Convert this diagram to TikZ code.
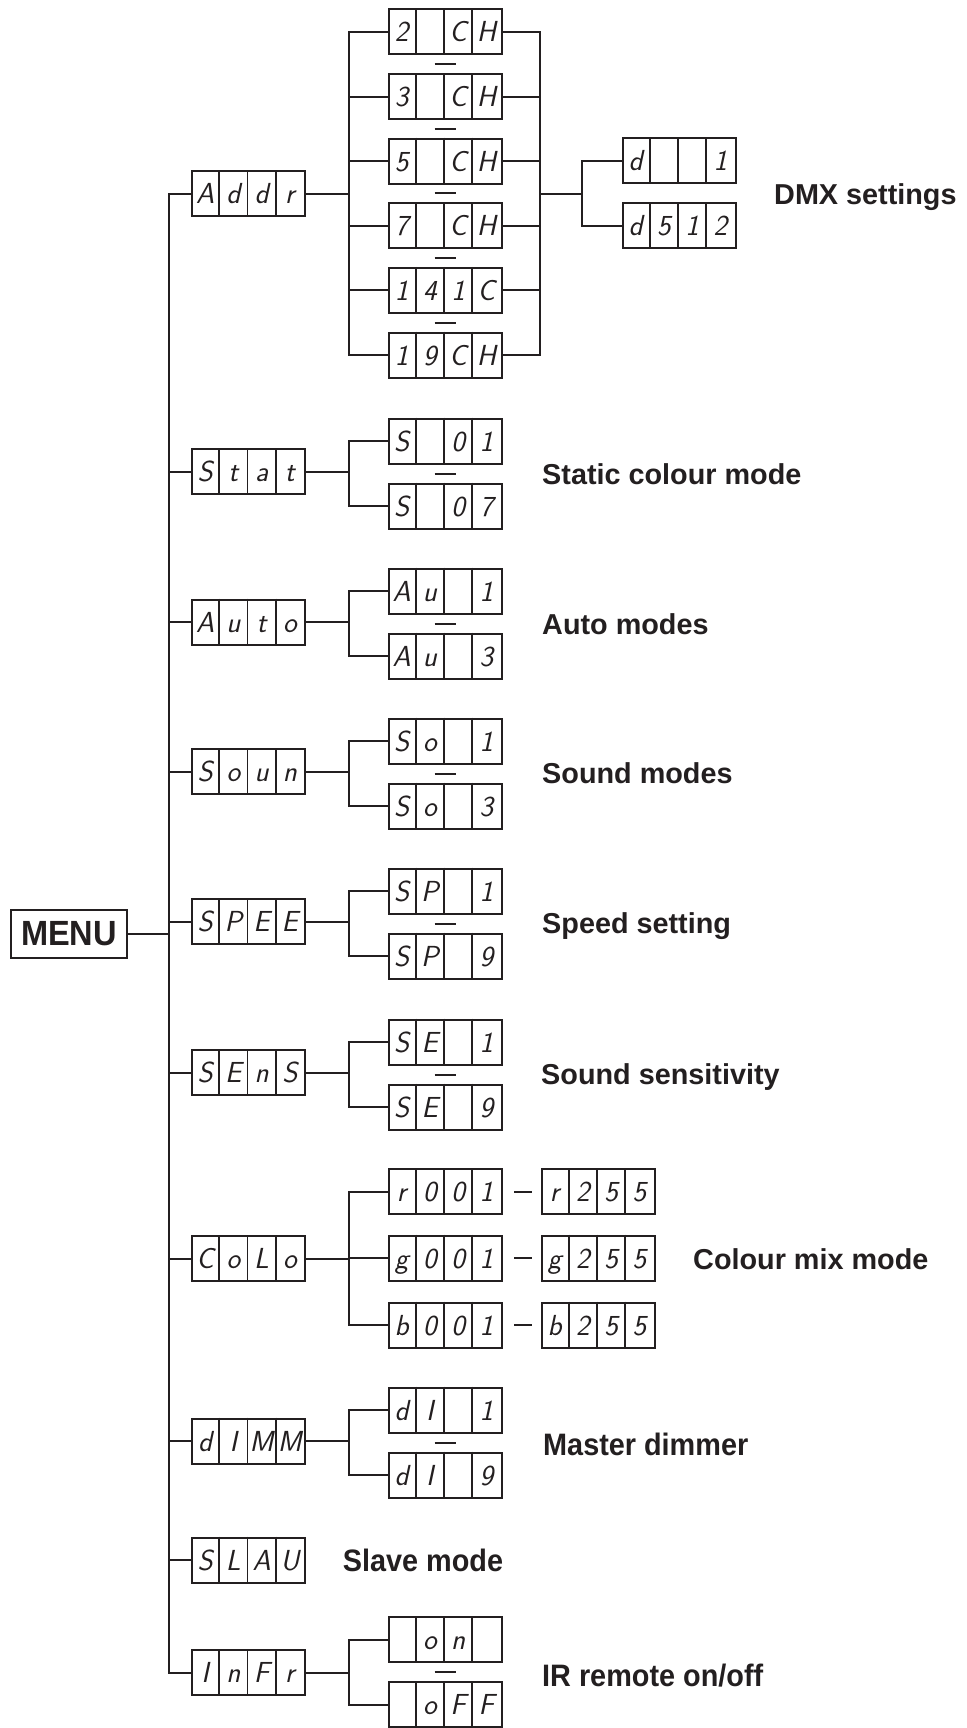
\documentclass[tikz,border=0pt]{standalone}
\usepackage{fontspec}
\newfontfamily\notefont{Liberation Sans}
\newfontfamily\narrowfont[FakeStretch=0.93]{Liberation Sans}
\usetikzlibrary{calc}
\definecolor{lcdInk}{HTML}{231F20}
\tikzset{
  lcd box/.style={draw=lcdInk, line width=2pt, minimum width=113pt, minimum height=45pt, inner sep=0pt},
  lcd cell/.style={draw=lcdInk, line width=1.6pt},
  lcd char/.style={text=lcdInk, inner sep=0pt, text height=20pt, text depth=0pt, font={\fontsize{29pt}{29pt}\sffamily\slshape}},
  lcd wire/.style={draw=lcdInk, line width=2pt},
  lcd or/.style={draw=lcdInk, line width=2pt},
  menu box/.style={draw=lcdInk, line width=2pt, minimum width=116pt, minimum height=48.5pt, inner sep=0pt, text=lcdInk, font={\fontsize{35pt}{36pt}\narrowfont\bfseries}},
  note wide/.style={anchor=base west, inner sep=0pt, text=lcdInk, font={\fontsize{28.8pt}{32pt}\notefont\bfseries}},
  note narrow/.style={anchor=base west, inner sep=0pt, text=lcdInk, font={\fontsize{31pt}{34pt}\narrowfont\bfseries}},
}
% one four-digit display: name, position, the four cells
\newcommand{\lcdbox}[6]{%
  \node[lcd box] (#1) at (#2) {};
  \foreach \k in {1,2,3}
    \draw[lcd cell] ([xshift=\k*28.25pt]#1.north west) -- ([xshift=\k*28.25pt]#1.south west);
  \foreach \k/\c in {1/#3,2/#4,3/#5,4/#6}
    \node[lcd char] (#1-\k) at ([xshift=\k*28.25pt-14.125pt]#1.west) {\c};
}

\begin{document}
\begin{tikzpicture}[x=1pt,y=-1pt]
  \useasboundingbox (0,0) rectangle (966,1728);
  \node[menu box] (menu) at (69,934) {MENU};
  % main menu column
  \lcdbox{addr}{248.5,194}{A}{d}{d}{r}
  \lcdbox{stat}{248.5,471.5}{S}{t}{a}{t}
  \lcdbox{auto}{248.5,622}{A}{u}{t}{o}
  \lcdbox{soun}{248.5,771.5}{S}{o}{u}{n}
  \lcdbox{spee}{248.5,921.5}{S}{P}{E}{E}
  \lcdbox{sens}{248.5,1072.5}{S}{E}{n}{S}
  \lcdbox{colo}{248.5,1258.5}{C}{o}{L}{o}
  \lcdbox{dimm}{248.5,1441}{d}{I}{M}{M}
  \lcdbox{slav}{248.5,1560}{S}{L}{A}{U}
  \lcdbox{infr}{248.5,1672.5}{I}{n}{F}{r}
  % sub settings
  \lcdbox{ch2}{445,32}{2}{}{C}{H}
  \lcdbox{ch3}{445,96.6}{3}{}{C}{H}
  \lcdbox{ch5}{445,161.2}{5}{}{C}{H}
  \lcdbox{ch7}{445,225.8}{7}{}{C}{H}
  \lcdbox{ch141}{445,290.4}{1}{4}{1}{C}
  \lcdbox{ch19}{445,355}{1}{9}{C}{H}
  \lcdbox{dmx1}{679,161}{d}{}{}{1}
  \lcdbox{dmx512}{679,226}{d}{5}{1}{2}
  \lcdbox{s01}{445,441}{S}{}{0}{1}
  \lcdbox{s07}{445,506}{S}{}{0}{7}
  \lcdbox{au1}{445,591}{A}{u}{}{1}
  \lcdbox{au3}{445,656}{A}{u}{}{3}
  \lcdbox{so1}{445,741}{S}{o}{}{1}
  \lcdbox{so3}{445,806}{S}{o}{}{3}
  \lcdbox{sp1}{445,891}{S}{P}{}{1}
  \lcdbox{sp9}{445,956}{S}{P}{}{9}
  \lcdbox{se1}{445,1042}{S}{E}{}{1}
  \lcdbox{se9}{445,1107}{S}{E}{}{9}
  \lcdbox{r001}{445,1191.5}{r}{0}{0}{1}
  \lcdbox{g001}{445,1258}{g}{0}{0}{1}
  \lcdbox{b001}{445,1325}{b}{0}{0}{1}
  \lcdbox{r255}{598,1191.5}{r}{2}{5}{5}
  \lcdbox{g255}{598,1258}{g}{2}{5}{5}
  \lcdbox{b255}{598,1325}{b}{2}{5}{5}
  \lcdbox{di1}{445,1410}{d}{I}{}{1}
  \lcdbox{di9}{445,1475}{d}{I}{}{9}
  \lcdbox{iron}{445,1639.5}{}{o}{n}{}
  \lcdbox{iroff}{445,1704.5}{}{o}{F}{F}
  % trunk
  \draw[lcd wire] (addr.west) -- ++(-22.5,0) coordinate (trunk) |- (infr.west);
  \foreach \n in {stat,auto,soun,spee,sens,colo,dimm,slav}
    \draw[lcd wire] (\n.west) -- (\n.west -| trunk);
  \draw[lcd wire] (menu.east) -- (menu.east -| trunk);
  % channel modes and DMX address
  \draw[lcd wire] (addr.east) -- ++(42.5,0) coordinate (aj);
  \draw[lcd wire] (ch2.west) -| (aj) |- (ch19.west);
  \draw[lcd wire] (ch2.east) -- ++(37.5,0) coordinate (ak) |- (ch19.east);
  \foreach \n in {ch3,ch5,ch7,ch141} {
    \draw[lcd wire] (\n.west) -- (\n.west -| aj);
    \draw[lcd wire] (\n.east) -- (\n.east -| ak);
  }
  \foreach \a/\b in {ch2/ch3,ch3/ch5,ch5/ch7,ch7/ch141,ch141/ch19}
    \draw[lcd or] ($(\a.south)!.5!(\b.north)$) ++(-10.5,0) -- ++(21,0);
  \draw[lcd wire] (ak |- addr.east) -- ++(42,0) coordinate (dj);
  \draw[lcd wire] (dmx1.west) -| (dj) |- (dmx512.west);
  % two-way choices
  \foreach \p/\a/\b in {stat/s01/s07,auto/au1/au3,soun/so1/so3,spee/sp1/sp9,sens/se1/se9,dimm/di1/di9,infr/iron/iroff} {
    \draw[lcd wire] (\p.east) -- ++(42.5,0) coordinate (j);
    \draw[lcd wire] (\a.west) -| (j) |- (\b.west);
    \draw[lcd or] ($(\a.south)!.5!(\b.north)$) ++(-10.5,0) -- ++(21,0);
  }
  % colour mix
  \draw[lcd wire] (colo.east) -- ++(42.5,0) coordinate (cj);
  \draw[lcd wire] (r001.west) -| (cj) |- (b001.west);
  \draw[lcd wire] (g001.west) -- (g001.west -| cj);
  \foreach \a/\b in {r001/r255,g001/g255,b001/b255}
    \draw[lcd or] ([xshift=11.5pt]\a.east) -- ([xshift=-8.5pt]\b.west);
  % labels
  \node[note wide] (dmxtxt) at (774,205) {DMX settings};
  \node[note wide] (stattxt) at (542,484) {Static colour mode};
  \node[note wide] (autotxt) at (542,634) {Auto modes};
  \node[note wide] (sountxt) at (542,783.5) {Sound modes};
  \node[note wide] (speetxt) at (542,933.5) {Speed setting};
  \node[note wide] (senstxt) at (541,1084) {Sound sensitivity};
  \node[note wide] (colotxt) at (693,1269) {Colour mix mode};
  \node[note narrow] (dimmtxt) at (543,1455) {Master dimmer};
  \node[note narrow] (slavtxt) at (342.7,1571.5) {Slave mode};
  \node[note narrow] (infrtxt) at (542,1686) {IR remote on/off};
\end{tikzpicture}
\end{document}
